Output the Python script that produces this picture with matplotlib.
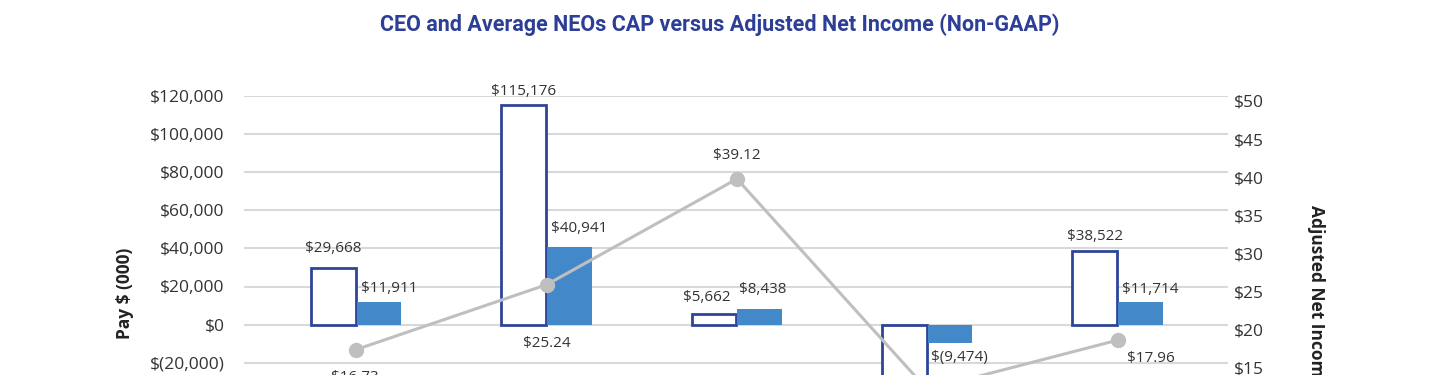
import matplotlib
matplotlib.use("Agg")
import matplotlib.pyplot as plt
import matplotlib.transforms as mtransforms
import numpy as np

# data
years = ["2020", "2021", "2022", "2023", "2024"]
ceo_cap = [29668, 115176, 5662, -38000, 38522]
neo_cap = [11911, 40941, 8438, -9474, 11714]
net_income = [16.73, 25.24, 39.12, 11.47, 17.96]

left_ticks = [-80000, -60000, -40000, -20000, 0, 20000, 40000, 60000, 80000, 100000, 120000]
right_ticks = [0, 5, 10, 15, 20, 25, 30, 35, 40, 45, 50]

NAVY = "#2E4499"
BLUE = "#4389CA"
GREY = "#BFBFBF"
TXT = "#333333"

plt.rcParams["font.family"] = ["Open Sans", "DejaVu Sans"]


def money(v):
    if v < 0:
        return "$({:,})".format(-v)
    return "${:,}".format(v)


fig = plt.figure(figsize=(14.4, 3.75), dpi=100)
# axes runs past the bottom of the picture, like the cropped original
top_px, bot_px = 96, 477
ax = fig.add_axes([244 / 1440, 1 - bot_px / 375, (1228 - 244) / 1440, (bot_px - top_px) / 375])
ax2 = ax.twinx()

x = np.arange(len(years))
w = 0.235
ax.bar(x - 0.12, ceo_cap, w, facecolor="white", edgecolor=NAVY, linewidth=2, zorder=3)
ax.bar(x + 0.12, neo_cap, w, color=BLUE, zorder=3)

ax.set_xlim(-0.59, 4.58)
ax.set_ylim(-80000, 120000)
ax.set_yticks(left_ticks)
ax.set_yticklabels([money(v) for v in left_ticks])
ax.yaxis.grid(True, color="#D9D9D9", linewidth=1.5, zorder=0)
ax.set_axisbelow(True)
ax.set_xticks(x)
ax.set_xticklabels(years)
ax.tick_params(axis="both", length=0, labelsize=12.5, labelcolor=TXT, pad=14)
for s in ax.spines.values():
    s.set_visible(False)

ax2.plot(x, net_income, color=GREY, linewidth=2.2, marker="o", markersize=10, zorder=5)
ax2.set_ylim(0, 50)
ax2.set_yticks(right_ticks)
ax2.set_yticklabels(["${}".format(v) for v in right_ticks])
ax2.tick_params(axis="y", length=0, labelsize=12.5, labelcolor=TXT, pad=4)
shift = mtransforms.ScaledTranslation(0, -5 / 100, fig.dpi_scale_trans)
for lab in ax2.get_yticklabels():
    lab.set_transform(lab.get_transform() + shift)
for s in ax2.spines.values():
    s.set_visible(False)

# data labels (offsets in points)
ceo_off = [(0, 14), (0, 10), (-5, 12), (0, -14), (0, 10.5)]
neo_off = [(7, 9.5), (7, 13), (2, 14), (7, -11), (7, 9)]
ni_off = [(-1, -20.5), (0, -42), (0, 17), (0, -16), (24, -13)]
for i in range(len(years)):
    ax.annotate(money(ceo_cap[i]), (x[i] - 0.12, ceo_cap[i]), xytext=ceo_off[i],
                textcoords="offset points", ha="center", va="center", fontsize=11, color=TXT)
    ax.annotate(money(neo_cap[i]), (x[i] + 0.12, neo_cap[i]), xytext=neo_off[i],
                textcoords="offset points", ha="center", va="center", fontsize=11, color=TXT)
    ax2.annotate("${:.2f}".format(net_income[i]), (x[i], net_income[i]), xytext=ni_off[i],
                 textcoords="offset points", ha="center", va="center", fontsize=11, color=TXT)

fig.text(0.5, 1 - 25 / 375, "CEO and Average NEOs CAP versus Adjusted Net Income (Non-GAAP)",
         ha="center", va="center", fontsize=15.5, fontweight="bold", color="#2C3E96",
         family=["Roboto", "DejaVu Sans"])
fig.text(125 / 1440, 1 - 293 / 375, "Pay $ (000)", rotation=90, ha="center", va="center",
         fontsize=12.5, fontweight="bold", color="#222222")
fig.text(1316 / 1440, 1 - 205 / 375, "Adjusted Net Income (Non-GAAP)", rotation=270,
         ha="center", va="top", fontsize=12.5, fontweight="bold", color="#222222")

fig.savefig("out.png", dpi=100)
